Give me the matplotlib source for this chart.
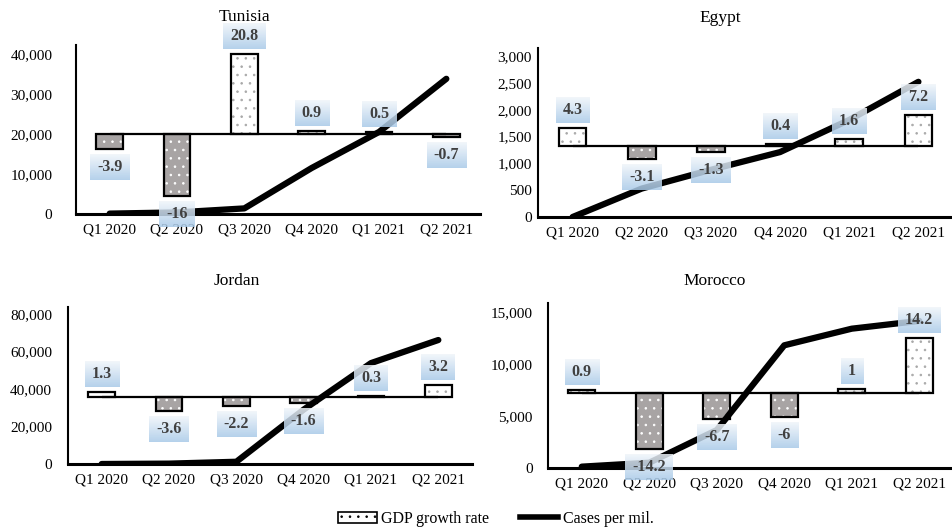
import numpy as np
import matplotlib.pyplot as plt
from matplotlib.patches import Patch
from matplotlib.lines import Line2D
from matplotlib.ticker import StrMethodFormatter
from matplotlib.image import BboxImage
from matplotlib.transforms import Bbox

plt.rcParams['font.family'] = ['Liberation Serif', 'DejaVu Serif']
plt.rcParams['hatch.linewidth'] = 0.6

quarters = ['Q1 2020', 'Q2 2020', 'Q3 2020', 'Q4 2020', 'Q1 2021', 'Q2 2021']
countries = ['Tunisia', 'Egypt', 'Jordan', 'Morocco']

gdp_tunisia = [-3.9, -16, 20.8, 0.9, 0.5, -0.7]
gdp_egypt = [4.3, -3.1, -1.3, 0.4, 1.6, 7.2]
gdp_jordan = [1.3, -3.6, -2.2, -1.6, 0.3, 3.2]
gdp_morocco = [0.9, -14.2, -6.7, -6, 1, 14.2]

cases_tunisia = [100, 400, 1400, 11500, 20500, 33800]
cases_egypt = [0, 530, 880, 1210, 1810, 2520]
cases_jordan = [0, 200, 1200, 29000, 53800, 66100]
cases_morocco = [130, 510, 3650, 11800, 13400, 14150]

ticks_tunisia = [0, 10000, 20000, 30000, 40000]
ticks_egypt = [0, 500, 1000, 1500, 2000, 2500, 3000]
ticks_jordan = [0, 20000, 40000, 60000, 80000]
ticks_morocco = [0, 5000, 10000, 15000]

gdp = [gdp_tunisia, gdp_egypt, gdp_jordan, gdp_morocco]
cases = [cases_tunisia, cases_egypt, cases_jordan, cases_morocco]
yticks = [ticks_tunisia, ticks_egypt, ticks_jordan, ticks_morocco]

# panel boxes in pixels: left, top, right, bottom
boxes = [(76, 45, 480, 214), (538, 48, 953, 217),
         (68, 307, 472, 464), (548, 303, 953, 468)]
ytop = [42250, 3150, 83700, 15870]
# where the GDP zero sits on the cases axis, and cases units per GDP point
zeros = [20000, 1323, 35700, 7200]
scale = [961, 80, 2080, 375]
label_pad = [17, 4.5, 11.5, 11]
title_pos = [(245, 17), (720, 18), (237, 281), (715, 281)]

# light-to-blue fill behind the value labels
top_c = np.array([0.94, 0.96, 0.98, 1.0])
bot_c = np.array([0.66, 0.79, 0.91, 1.0])
grad = np.linspace(top_c, bot_c, 32).reshape(32, 1, 4)


def label_box(ann, px=7, py=5):
    def extent(renderer):
        bb = ann.get_window_extent(renderer)
        return Bbox.from_extents(bb.x0 - px, bb.y0 - py, bb.x1 + px, bb.y1 + py)
    return extent


W, H = 953, 529
fig = plt.figure(figsize=(W / 100, H / 100), dpi=100)

x = np.arange(len(quarters))
for n in range(4):
    l, t, r, b = boxes[n]
    ax = fig.add_axes([l / W, 1 - b / H, (r - l) / W, (b - t) / H])
    ax2 = ax.twinx()
    ax.set_zorder(ax2.get_zorder() + 1)
    ax.patch.set_visible(False)

    vals = gdp[n]
    fills = ['white' if v > 0 else '#a8a4a4' for v in vals]
    dots = ['#a8a8a8' if v > 0 else 'white' for v in vals]
    ax2.bar(x, vals, 0.4, color=fills, edgecolor=dots, hatch='..', linewidth=0)
    ax2.bar(x, vals, 0.4, fill=False, edgecolor='black', linewidth=1.6)
    ax2.hlines(0, 0, 5, color='black', linewidth=1.6)
    ax2.set_ylim(-zeros[n] / scale[n], (ytop[n] - zeros[n]) / scale[n])
    ax2.axis('off')

    ax.plot(x, cases[n], color='black', linewidth=4.5, solid_capstyle='round')
    ax.set_xlim(-0.5, 5.5)
    ax.set_ylim(0, ytop[n])
    ax.set_xticks(x, quarters)
    ax.set_yticks(yticks[n])
    ax.yaxis.set_major_formatter(StrMethodFormatter('{x:,.0f}'))
    ax.tick_params(length=0, labelsize=11)
    ax.tick_params(axis='y', pad=label_pad[n])
    ax.tick_params(axis='x', pad=7)
    for s in ['top', 'right']:
        ax.spines[s].set_visible(False)
    ax.spines['left'].set_linewidth(1.5)
    ax.spines['bottom'].set_linewidth(2.2)

    for i, v in enumerate(vals):
        off = 18 if v > 0 else -18
        ann = ax.annotate(f'{v:g}', xy=(i, v), xycoords=ax2.transData,
                          xytext=(0, off), textcoords='offset pixels',
                          ha='center', va='center', fontsize=11.5,
                          fontweight='bold', color='#404040', zorder=4)
        img = BboxImage(label_box(ann), data=grad, interpolation='bilinear',
                        alpha=0.85, zorder=3.5)
        ax.add_artist(img)
        img.set_clip_on(False)

    tx, ty = title_pos[n]
    fig.text(tx / W, 1 - ty / H, countries[n], ha='center', va='center',
             fontsize=12.5)

handles = [Patch(facecolor='white', edgecolor='black', hatch='..', linewidth=1.2),
           Line2D([], [], color='black', linewidth=4)]
fig.legend(handles, ['GDP growth rate', 'Cases per mil.'], loc='center',
           bbox_to_anchor=(496 / W, 1 - 519 / H), ncol=2, frameon=False,
           fontsize=11.5, handlelength=2.4, handletextpad=0.3,
           columnspacing=1.9)

fig.savefig('out.png', dpi=100)
